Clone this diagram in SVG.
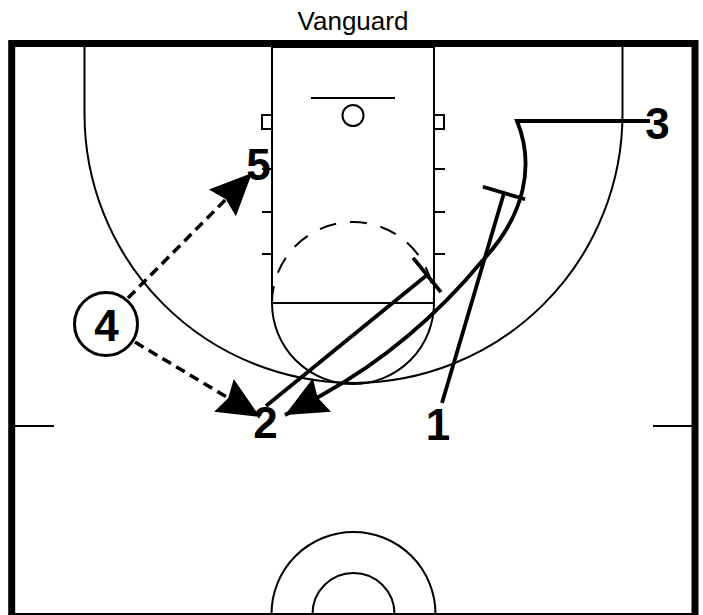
<svg xmlns="http://www.w3.org/2000/svg" width="703" height="615" viewBox="0 0 703 615">
  <style>
    .court { fill: none; stroke: #000; stroke-width: 2; }
    .border { fill: none; stroke: #000; stroke-width: 7; }
    .move { fill: none; stroke: #000; stroke-width: 3.8; }
    .pass { fill: none; stroke: #000; stroke-width: 3.5; stroke-dasharray: 10 6; }
    .lbl { font-family: "Liberation Sans", Arial, sans-serif; font-weight: bold; font-size: 44px; text-anchor: middle; fill: #000; }
    .title { font-family: "Liberation Sans", Arial, sans-serif; font-size: 26px; text-anchor: middle; fill: #000; }
  </style>
  <defs>
    <marker id="arrow" markerUnits="userSpaceOnUse" markerWidth="46" markerHeight="42" viewBox="0 -21 44 42" refX="42" refY="0" orient="auto">
      <path d="M42,0 L0,-19 L5,0 L0,19 Z" fill="#000"/>
    </marker>
  </defs>

  <rect width="703" height="615" fill="#fff"/>
  <text class="title" x="353" y="30">Vanguard</text>

  <g id="court">
    <rect class="border" x="11.7" y="43.5" width="683.3" height="640"/>
    <line class="court" x1="15" y1="614" x2="692" y2="614"/>
    <line class="court" x1="15" y1="426" x2="54" y2="426"/>
    <line class="court" x1="653" y1="426" x2="692" y2="426"/>
    <path class="court" d="M84.5,47 L84.5,114 A269,269 0 0 0 622.5,114 L622.5,47"/>
    <rect class="court" x="272" y="47" width="162" height="256"/>
    <path class="court" d="M272,303 A81,81 0 0 0 434,303"/>
    <path class="court" d="M272,303 A81,81 0 0 1 434,303" stroke-dasharray="17 14"/>
    <line class="court" x1="311" y1="98" x2="395" y2="98"/>
    <circle class="court" cx="353" cy="115.5" r="10.5"/>
    <rect class="court" x="262" y="115" width="10" height="14"/>
    <rect class="court" x="434" y="115" width="10" height="14"/>
    <path class="court" d="M262,169 H272 M262,212 H272 M262,254 H272 M434,169 H445 M434,212 H445 M434,254 H445"/>
    <circle class="court" cx="353.5" cy="614" r="82"/>
    <circle class="court" cx="353.5" cy="614" r="41"/>
  </g>

  <g id="connectors">
    <path id="cut-3" class="move" d="M650,121 L517,121 C535,165 525,215 483,260 C440,312 385,360 322,395 L285,415" marker-end="url(#arrow)"/>
    <path id="screen-1" class="move" d="M442,403 L504,193 M482.9,186.8 L525.1,199.2"/>
    <path id="screen-2" class="move" d="M266,406 L427,275 M413.1,257.9 L440.9,292.1"/>
    <path id="pass-4-5" class="pass" d="M128,298 L252,173" marker-end="url(#arrow)"/>
    <path id="pass-4-2" class="pass" d="M135,342 L260,417" marker-end="url(#arrow)"/>
  </g>

  <g id="player-1"><text class="lbl" x="438" y="440">1</text></g>
  <g id="player-2"><text class="lbl" x="265.5" y="438">2</text></g>
  <g id="player-3"><text class="lbl" x="657.5" y="138.5">3</text></g>
  <g id="player-4">
    <circle cx="106" cy="324" r="31.5" fill="#fff" stroke="#000" stroke-width="3"/>
    <text class="lbl" x="106.5" y="341">4</text>
  </g>
  <g id="player-5"><text class="lbl" x="258.5" y="180">5</text></g>
</svg>
